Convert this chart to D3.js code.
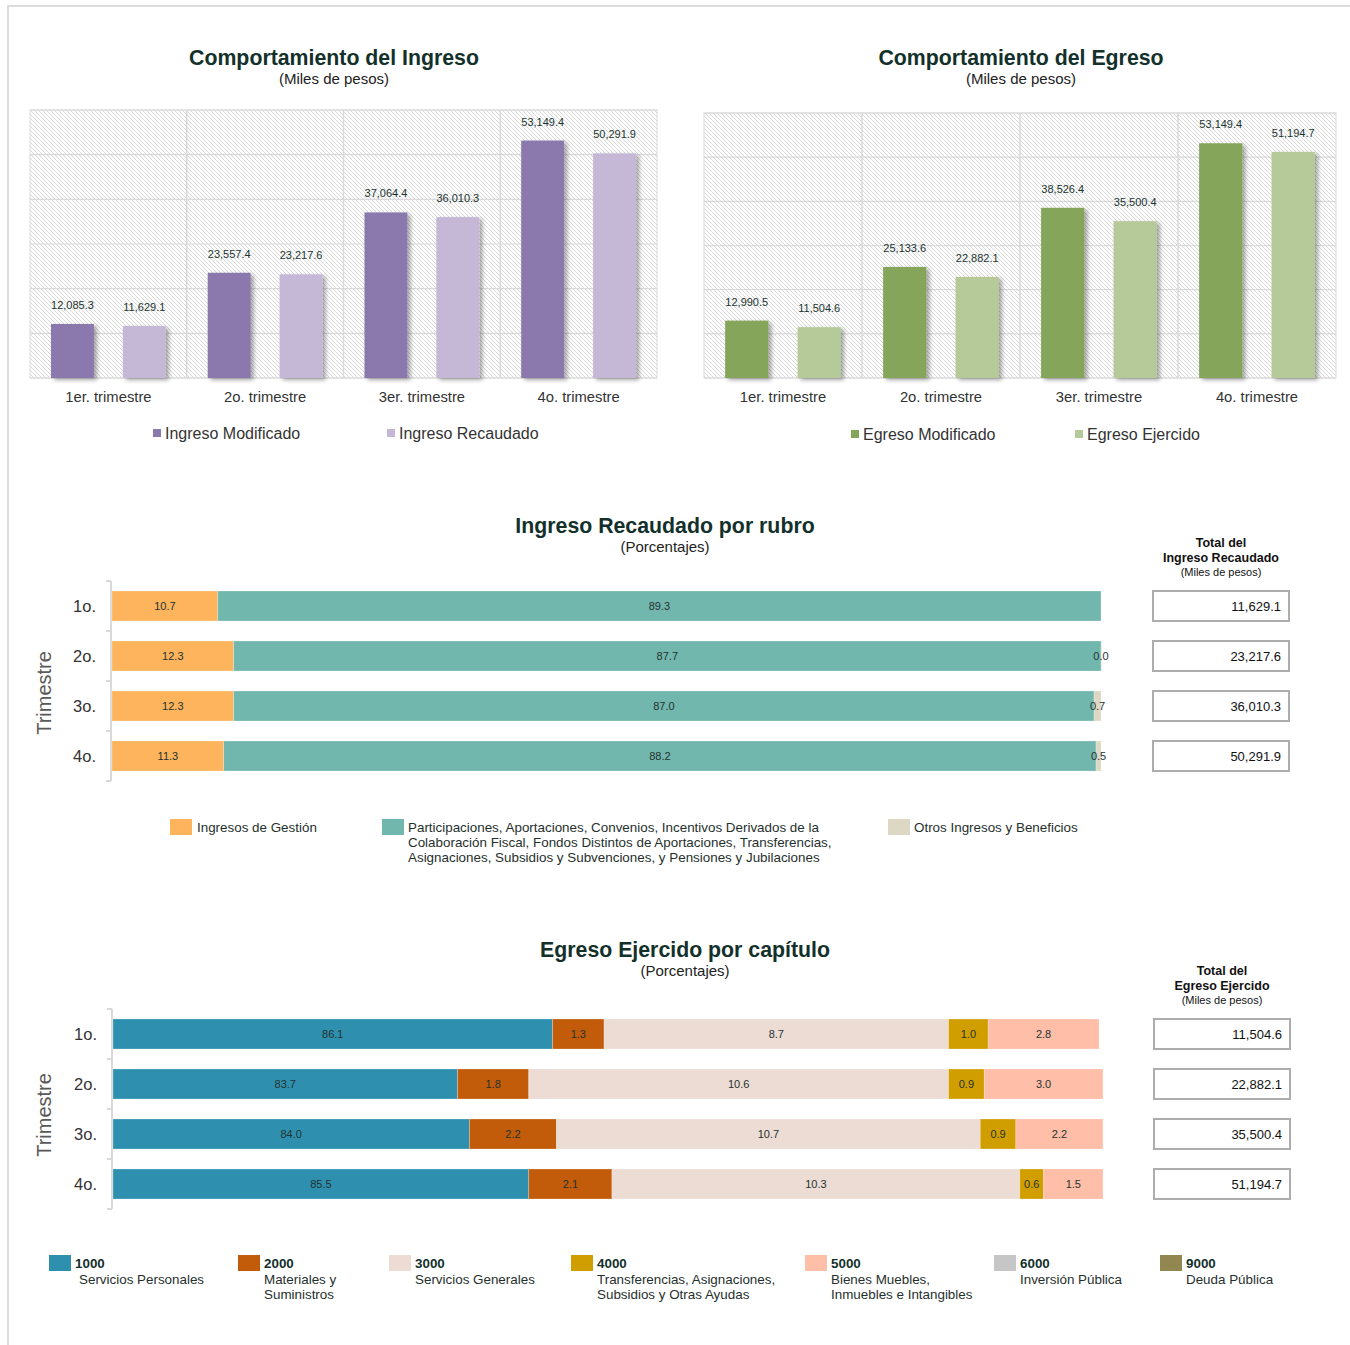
<!DOCTYPE html>
<html>
<head>
<meta charset="utf-8">
<script src="https://cdn.jsdelivr.net/npm/d3@7"></script>
<style>
  body { margin: 0; background: #fff; }
  svg { display: block; font-family: "Liberation Sans", Arial, sans-serif; }
</style>
</head>
<body>
<svg id="chart" width="1350" height="1345"></svg>
<script>
// --- datos ---
const trimestres = ['1er. trimestre', '2o. trimestre', '3er. trimestre', '4o. trimestre'];
const ingresoModificado = [12085.3, 23557.4, 37064.4, 53149.4];
const ingresoRecaudado = [11629.1, 23217.6, 36010.3, 50291.9];
const egresoModificado = [12990.5, 25133.6, 38526.4, 53149.4];
const egresoEjercido = [11504.6, 22882.1, 35500.4, 51194.7];

const filas = ['1o.', '2o.', '3o.', '4o.'];
const rubros = ['Ingresos de Gestión',
  'Participaciones, Aportaciones, Convenios, Incentivos Derivados de la|Colaboración Fiscal, Fondos Distintos de Aportaciones, Transferencias,|Asignaciones, Subsidios y Subvenciones, y Pensiones y Jubilaciones',
  'Otros Ingresos y Beneficios'];
const gestion = [10.7, 12.3, 12.3, 11.3];
const participaciones = [89.3, 87.7, 87.0, 88.2];
const otrosIngresos = [null, 0.0, 0.7, 0.5];
const totalRecaudado = [11629.1, 23217.6, 36010.3, 50291.9];

const capitulos = ['1000', '2000', '3000', '4000', '5000', '6000', '9000'];
const capNombres = ['Servicios Personales', 'Materiales y|Suministros', 'Servicios Generales',
  'Transferencias, Asignaciones,|Subsidios y Otras Ayudas', 'Bienes Muebles,|Inmuebles e Intangibles',
  'Inversión Pública', 'Deuda Pública'];
const cap1000 = [86.1, 83.7, 84.0, 85.5];
const cap2000 = [1.3, 1.8, 2.2, 2.1];
const cap3000 = [8.7, 10.6, 10.7, 10.3];
const cap4000 = [1.0, 0.9, 0.9, 0.6];
const cap5000 = [2.8, 3.0, 2.2, 1.5];
const totalEjercido = [11504.6, 22882.1, 35500.4, 51194.7];

const fmt = d3.format(',.1f');
const txtDark = '#1b332f';

const svg = d3.select('#chart');

// marco
svg.append('rect').attr('x', 8).attr('y', 6).attr('width', 1400).attr('height', 1400)
  .attr('fill', 'none').attr('stroke', '#dcdcdc').attr('stroke-width', 2);

const defs = svg.append('defs');
const pat = defs.append('pattern').attr('id', 'hatch').attr('patternUnits', 'userSpaceOnUse')
  .attr('width', 4).attr('height', 4);
pat.append('rect').attr('width', 4).attr('height', 4).attr('fill', '#fff');
pat.append('path').attr('d', 'M0,0 L4,4 M-1,3 L1,5 M3,-1 L5,1')
  .attr('stroke', '#d4d4d4').attr('stroke-width', 0.9);

const shadow = defs.append('filter').attr('id', 'shadow')
  .attr('x', '-20%').attr('y', '-10%').attr('width', '150%').attr('height', '130%');
shadow.append('feDropShadow').attr('dx', 3).attr('dy', 2).attr('stdDeviation', 2)
  .attr('flood-color', '#000').attr('flood-opacity', 0.35);

function titulo(x, y, t, sub) {
  svg.append('text').attr('x', x).attr('y', y).attr('text-anchor', 'middle')
    .attr('font-size', 21.3).attr('font-weight', 'bold').attr('fill', '#13302b').text(t);
  svg.append('text').attr('x', x).attr('y', y + 19).attr('text-anchor', 'middle')
    .attr('font-size', 15).attr('fill', '#222').text(sub);
}

// grafica de barras agrupadas
function renderColumnas(cfg) {
  const { x0, x1, top, bottom, series, colores, nombres, legendX, legendY } = cfg;
  const g = svg.append('g');

  const x = d3.scaleBand().domain(trimestres).range([x0, x1]).padding(0);
  const xi = d3.scaleBand().domain([0, 1]).range([0, x.bandwidth()])
    .paddingInner(0.403).paddingOuter(0.2917);
  const y = d3.scaleLinear().domain([0, 60000]).range([bottom, top]);

  g.append('rect').attr('x', x0).attr('y', top).attr('width', x1 - x0).attr('height', bottom - top)
    .attr('fill', 'url(#hatch)').attr('stroke', '#dadada');

  g.selectAll('.hgrid').data(y.ticks(6)).enter().append('line')
    .attr('x1', x0).attr('x2', x1).attr('y1', d => y(d)).attr('y2', d => y(d))
    .attr('stroke', '#d9d9d9').attr('stroke-width', 1.2);
  g.selectAll('.vgrid').data(trimestres.slice(1)).enter().append('line')
    .attr('x1', d => x(d)).attr('x2', d => x(d)).attr('y1', top).attr('y2', bottom)
    .attr('stroke', '#d9d9d9').attr('stroke-width', 1.5);

  series.forEach((vals, s) => {
    g.selectAll('.bar' + s).data(vals).enter().append('rect')
      .attr('x', (d, i) => x(trimestres[i]) + xi(s))
      .attr('y', d => y(d))
      .attr('width', xi.bandwidth())
      .attr('height', d => bottom - y(d))
      .attr('fill', colores[s])
      .attr('filter', 'url(#shadow)');
    g.selectAll('.lbl' + s).data(vals).enter().append('text')
      .attr('x', (d, i) => x(trimestres[i]) + xi(s) + xi.bandwidth() / 2)
      .attr('y', d => y(d) - 15)
      .attr('text-anchor', 'middle').attr('font-size', 11).attr('fill', txtDark)
      .text(d => fmt(d));
  });

  g.selectAll('.cat').data(trimestres).enter().append('text')
    .attr('x', d => x(d) + x.bandwidth() / 2).attr('y', bottom + 24)
    .attr('text-anchor', 'middle').attr('font-size', 14.8).attr('fill', '#333')
    .text(d => d);

  nombres.forEach((n, i) => {
    g.append('rect').attr('x', legendX[i]).attr('y', legendY).attr('width', 8).attr('height', 8)
      .attr('fill', colores[i]);
    g.append('text').attr('x', legendX[i] + 12).attr('y', legendY + 10)
      .attr('font-size', 16).attr('fill', '#333').text(n);
  });
}

titulo(334, 65, 'Comportamiento del Ingreso', '(Miles de pesos)');
renderColumnas({
  x0: 30, x1: 657, top: 110, bottom: 378,
  series: [ingresoModificado, ingresoRecaudado],
  colores: ['#8b78ad', '#c5b7d6'],
  nombres: ['Ingreso Modificado', 'Ingreso Recaudado'],
  legendX: [153, 387], legendY: 429
});

titulo(1021, 65, 'Comportamiento del Egreso', '(Miles de pesos)');
renderColumnas({
  x0: 704, x1: 1336, top: 113, bottom: 378,
  series: [egresoModificado, egresoEjercido],
  colores: ['#84a55a', '#b5c999'],
  nombres: ['Egreso Modificado', 'Egreso Ejercido'],
  legendX: [851, 1075], legendY: 430
});

// barras apiladas horizontales
function renderApiladas(cfg) {
  const { y0, y1, xDomain, xRange, series, colores, totales, boxX, headY, header, tituloDy } = cfg;
  const g = svg.append('g');

  const y = d3.scaleBand().domain(filas).range([y0, y1]).paddingInner(0.4).paddingOuter(0.2);
  const x = d3.scaleLinear().domain(xDomain).range(xRange);

  // eje
  const axisX = xRange[0] - 1;
  g.append('line').attr('x1', axisX).attr('x2', axisX).attr('y1', y0).attr('y2', y1)
    .attr('stroke', '#d9d9d9').attr('stroke-width', 2);
  const bounds = filas.map(f => y(f) - y.step() * 0.2).concat([y1]);
  g.selectAll('.tk').data(bounds).enter().append('line')
    .attr('x1', axisX - 5).attr('x2', axisX).attr('y1', d => d).attr('y2', d => d)
    .attr('stroke', '#d9d9d9').attr('stroke-width', 2);
  g.selectAll('.fila').data(filas).enter().append('text')
    .attr('x', axisX - 15).attr('y', d => y(d) + y.bandwidth() / 2 + 6)
    .attr('text-anchor', 'end').attr('font-size', 16.5).attr('fill', '#333').text(d => d);
  g.append('text')
    .attr('transform', `translate(51,${(y0 + y1) / 2 + tituloDy}) rotate(-90)`)
    .attr('text-anchor', 'middle').attr('font-size', 20).attr('fill', '#595959').text('Trimestre');

  filas.forEach((f, i) => {
    let acc = xDomain[0];
    series.forEach((vals, s) => {
      const v = vals[i];
      if (v === null) return;
      // el primer segmento parte del inicio del dominio
      const start = acc;
      const end = s === 0 ? vals[i] - (100 - xDomain[1]) : acc + v;
      const endVal = s === 0 ? Math.max(start, end) : end;
      acc = endVal;
      const xa = x(start), xb = x(endVal);
      g.append('rect').attr('x', xa).attr('y', y(f))
        .attr('width', Math.max(0.6, xb - xa)).attr('height', y.bandwidth())
        .attr('fill', colores[s]).attr('stroke', '#fff').attr('stroke-opacity', 0.4).attr('stroke-width', 0.6);
      g.append('text').attr('x', (xa + xb) / 2).attr('y', y(f) + y.bandwidth() / 2 + 4)
        .attr('text-anchor', 'middle').attr('font-size', 11).attr('fill', '#24322f')
        .text(v.toFixed(1));
    });
  });

  // totales
  header.forEach((h, k) => {
    g.append('text').attr('x', boxX + 68).attr('y', headY + k * 14.5)
      .attr('text-anchor', 'middle').attr('font-size', k < 2 ? 12.5 : 11)
      .attr('font-weight', k < 2 ? 'bold' : 'normal').attr('fill', '#111').text(h);
  });
  g.selectAll('.box').data(totales).enter().append('rect')
    .attr('x', boxX).attr('y', (d, i) => y(filas[i]))
    .attr('width', 136).attr('height', y.bandwidth())
    .attr('fill', '#fff').attr('stroke', '#adadad').attr('stroke-width', 2);
  g.selectAll('.tot').data(totales).enter().append('text')
    .attr('x', boxX + 128).attr('y', (d, i) => y(filas[i]) + y.bandwidth() / 2 + 5)
    .attr('text-anchor', 'end').attr('font-size', 13).attr('fill', '#111').text(d => fmt(d));
}

titulo(665, 533, 'Ingreso Recaudado por rubro', '(Porcentajes)');
const coloresRubro = ['#fdb45c', '#72b7ae', '#ddd8c3'];
renderApiladas({
  y0: 581, y1: 781, xDomain: [0, 100], xRange: [112, 1101],
  series: [gestion, participaciones, otrosIngresos],
  colores: coloresRubro,
  totales: totalRecaudado, boxX: 1153, headY: 547,
  header: ['Total del', 'Ingreso Recaudado', '(Miles de pesos)'],
  tituloDy: 12
});

// leyenda rubros
const legRubroX = [170, 382, 888];
rubros.forEach((r, i) => {
  svg.append('rect').attr('x', legRubroX[i]).attr('y', 819).attr('width', 22).attr('height', 16)
    .attr('fill', coloresRubro[i]);
  r.split('|').forEach((line, k) => {
    svg.append('text').attr('x', legRubroX[i] + (i === 0 ? 27 : 26)).attr('y', 832 + k * 15)
      .attr('font-size', 13.4).attr('fill', '#1f302d').text(line);
  });
});

titulo(685, 957, 'Egreso Ejercido por capítulo', '(Porcentajes)');
const coloresCap = ['#2e90ae', '#c25b0a', '#eddcd4', '#d19e00', '#ffbea8', '#c6c6c6', '#928751'];
renderApiladas({
  y0: 1009, y1: 1209, xDomain: [75, 100], xRange: [113, 1103],
  series: [cap1000, cap2000, cap3000, cap4000, cap5000],
  colores: coloresCap,
  totales: totalEjercido, boxX: 1154, headY: 975,
  header: ['Total del', 'Egreso Ejercido', '(Miles de pesos)'],
  tituloDy: 6
});

// leyenda capitulos
const legCapX = [49, 238, 389, 571, 805, 994, 1160];
capitulos.forEach((c, i) => {
  svg.append('rect').attr('x', legCapX[i]).attr('y', 1255).attr('width', 22).attr('height', 16)
    .attr('fill', coloresCap[i]);
  svg.append('text').attr('x', legCapX[i] + 26).attr('y', 1268)
    .attr('font-size', 13.4).attr('font-weight', 'bold').attr('fill', '#14302b').text(c);
  capNombres[i].split('|').forEach((line, k) => {
    svg.append('text').attr('x', legCapX[i] + (i === 0 ? 30 : 26)).attr('y', 1284 + k * 15)
      .attr('font-size', 13.4).attr('fill', '#1f302d').text(line);
  });
});
</script>
</body>
</html>
